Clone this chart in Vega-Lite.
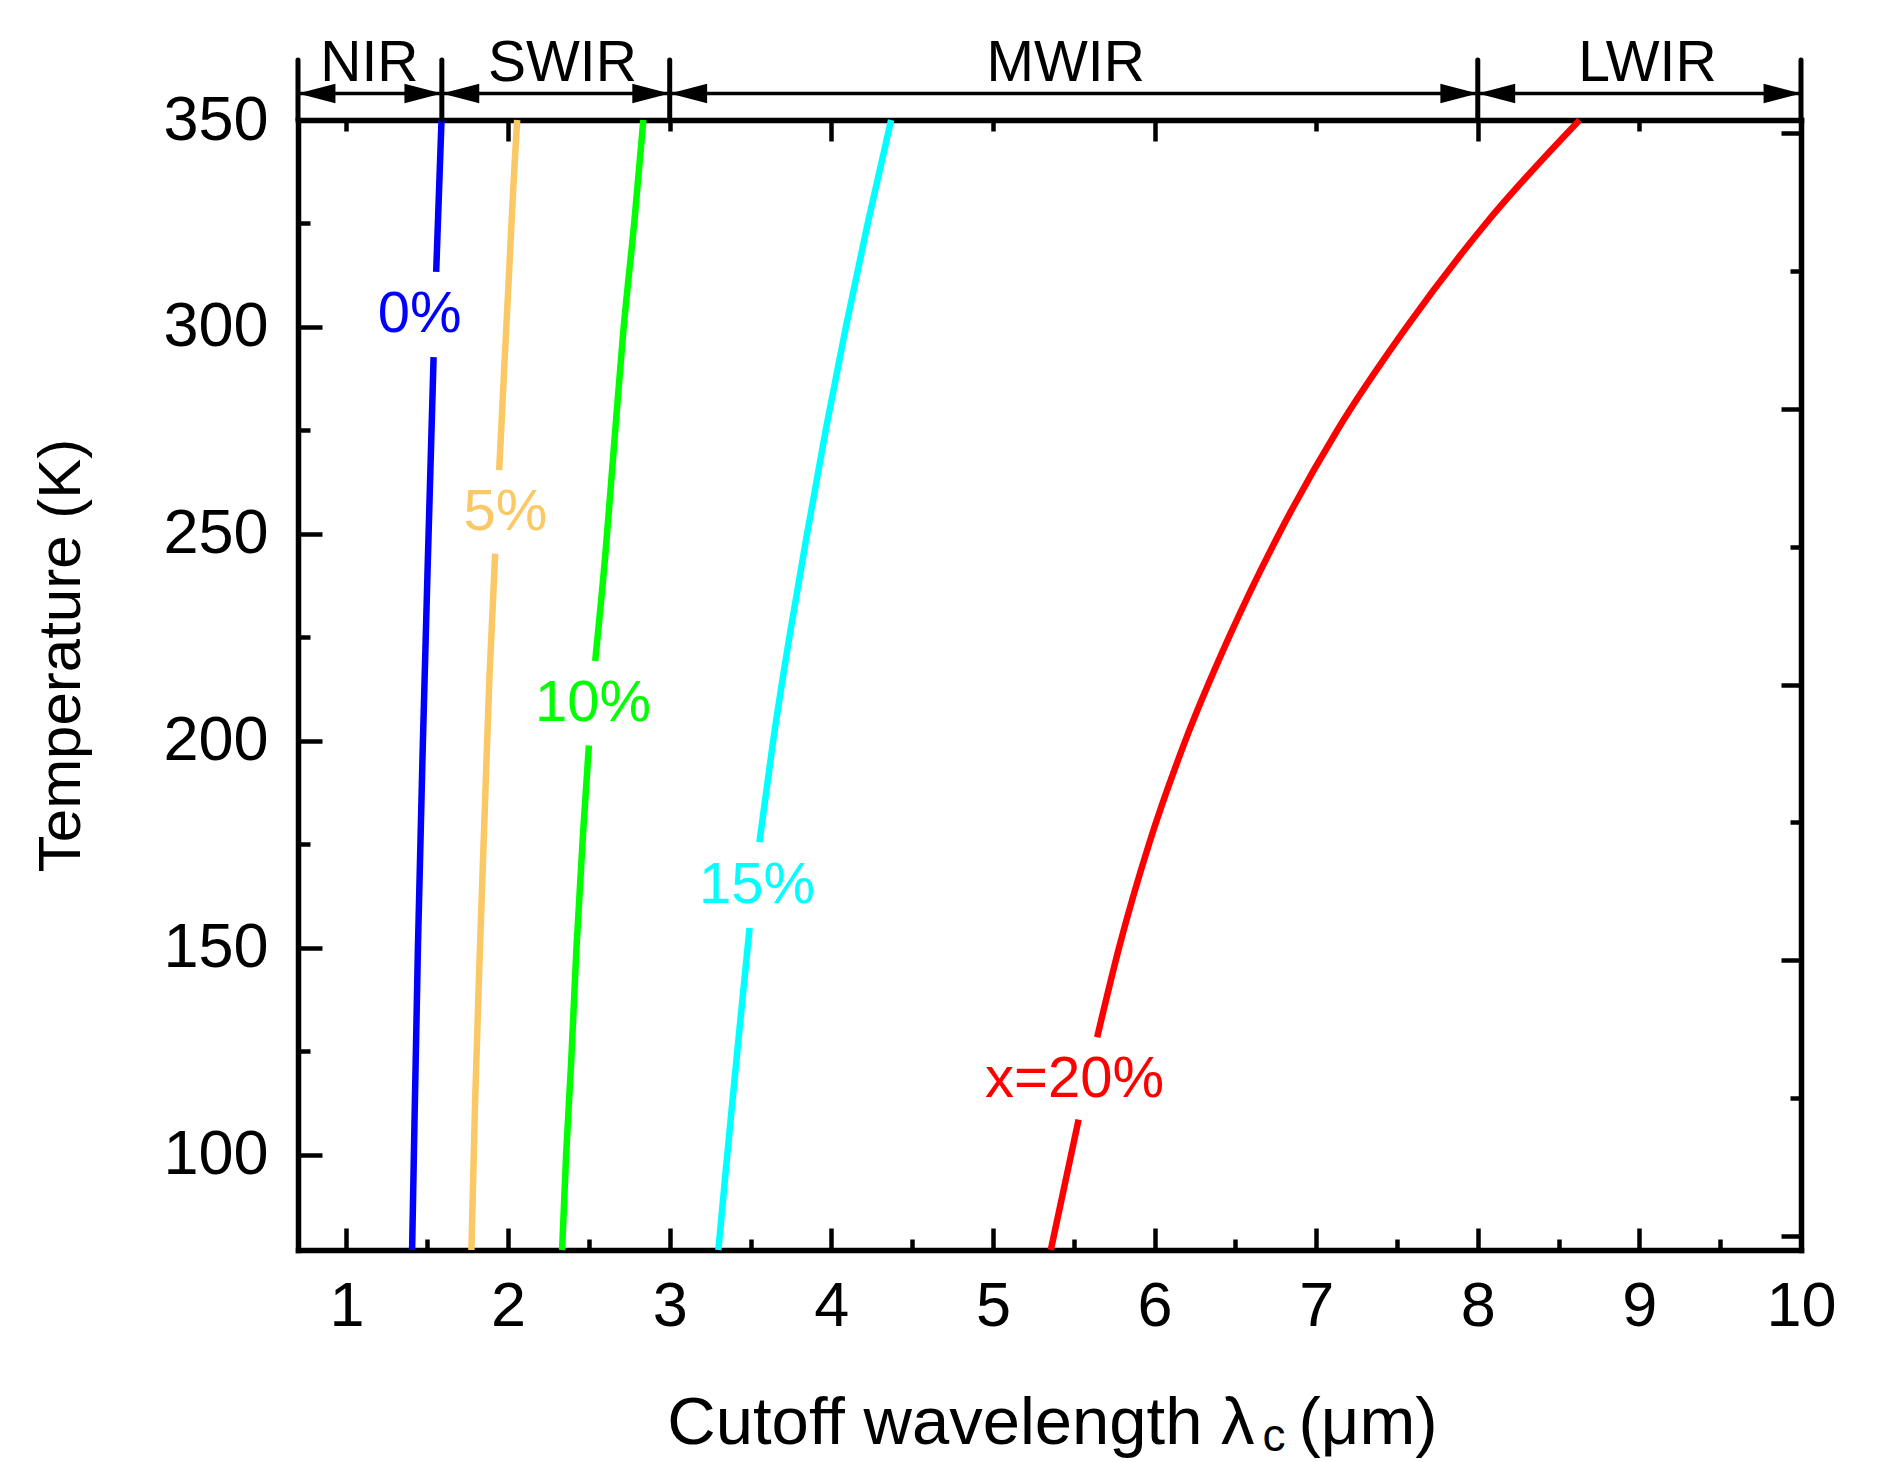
{
  "$schema": "https://vega.github.io/schema/vega-lite/v6.json",
  "width": 1503,
  "height": 1130,
  "autosize": {"type": "none"},
  "padding": {"left": 298, "top": 120, "right": 98, "bottom": 212},
  "background": "white",
  "config": {
    "view": {"stroke": null},
    "font": "Liberation Sans",
    "axis": {"grid": false, "domainColor": "black", "tickColor": "black", "labelColor": "black", "titleColor": "black", "labelFont": "Liberation Sans", "titleFont": "Liberation Sans"}
  },
  "datasets": {
    "curves": [
      {"series": "0%", "seg": "0a", "T": 77, "lambda": 1.406},
      {"series": "0%", "seg": "0a", "T": 100, "lambda": 1.417},
      {"series": "0%", "seg": "0a", "T": 150, "lambda": 1.442},
      {"series": "0%", "seg": "0a", "T": 200, "lambda": 1.473},
      {"series": "0%", "seg": "0a", "T": 250, "lambda": 1.508},
      {"series": "0%", "seg": "0a", "T": 292.7, "lambda": 1.539},
      {"series": "0%", "seg": "0b", "T": 313.3, "lambda": 1.555},
      {"series": "0%", "seg": "0b", "T": 350, "lambda": 1.588},
      {"series": "5%", "seg": "5a", "T": 77, "lambda": 1.773},
      {"series": "5%", "seg": "5a", "T": 113, "lambda": 1.796},
      {"series": "5%", "seg": "5a", "T": 150, "lambda": 1.826},
      {"series": "5%", "seg": "5a", "T": 187, "lambda": 1.859},
      {"series": "5%", "seg": "5a", "T": 214.8, "lambda": 1.884},
      {"series": "5%", "seg": "5a", "T": 245.2, "lambda": 1.92},
      {"series": "5%", "seg": "5b", "T": 265.4, "lambda": 1.945},
      {"series": "5%", "seg": "5b", "T": 290, "lambda": 1.976},
      {"series": "5%", "seg": "5b", "T": 310, "lambda": 2.002},
      {"series": "5%", "seg": "5b", "T": 335, "lambda": 2.034},
      {"series": "5%", "seg": "5b", "T": 350, "lambda": 2.056},
      {"series": "10%", "seg": "10a", "T": 77, "lambda": 2.334},
      {"series": "10%", "seg": "10a", "T": 100, "lambda": 2.359},
      {"series": "10%", "seg": "10a", "T": 122.2, "lambda": 2.39},
      {"series": "10%", "seg": "10a", "T": 150, "lambda": 2.423},
      {"series": "10%", "seg": "10a", "T": 177.8, "lambda": 2.464},
      {"series": "10%", "seg": "10a", "T": 198.9, "lambda": 2.5},
      {"series": "10%", "seg": "10b", "T": 219.3, "lambda": 2.539},
      {"series": "10%", "seg": "10b", "T": 245.2, "lambda": 2.602},
      {"series": "10%", "seg": "10b", "T": 272.1, "lambda": 2.657},
      {"series": "10%", "seg": "10b", "T": 299, "lambda": 2.713},
      {"series": "10%", "seg": "10b", "T": 325.8, "lambda": 2.782},
      {"series": "10%", "seg": "10b", "T": 350, "lambda": 2.837},
      {"series": "15%", "seg": "15a", "T": 77, "lambda": 3.301},
      {"series": "15%", "seg": "15a", "T": 100, "lambda": 3.356},
      {"series": "15%", "seg": "15a", "T": 125, "lambda": 3.418},
      {"series": "15%", "seg": "15a", "T": 154.8, "lambda": 3.494},
      {"series": "15%", "seg": "15b", "T": 175.5, "lambda": 3.555},
      {"series": "15%", "seg": "15b", "T": 200, "lambda": 3.64},
      {"series": "15%", "seg": "15b", "T": 225, "lambda": 3.74},
      {"series": "15%", "seg": "15b", "T": 250, "lambda": 3.85},
      {"series": "15%", "seg": "15b", "T": 275, "lambda": 3.965},
      {"series": "15%", "seg": "15b", "T": 300, "lambda": 4.09},
      {"series": "15%", "seg": "15b", "T": 325, "lambda": 4.225},
      {"series": "15%", "seg": "15b", "T": 350, "lambda": 4.37},
      {"series": "20%", "seg": "20a", "T": 77, "lambda": 5.358},
      {"series": "20%", "seg": "20a", "T": 92, "lambda": 5.44},
      {"series": "20%", "seg": "20a", "T": 108.5, "lambda": 5.53},
      {"series": "20%", "seg": "20b", "T": 128.4, "lambda": 5.645},
      {"series": "20%", "seg": "20b", "T": 150, "lambda": 5.78},
      {"series": "20%", "seg": "20b", "T": 175, "lambda": 5.965},
      {"series": "20%", "seg": "20b", "T": 200, "lambda": 6.19},
      {"series": "20%", "seg": "20b", "T": 225, "lambda": 6.46},
      {"series": "20%", "seg": "20b", "T": 250, "lambda": 6.77},
      {"series": "20%", "seg": "20b", "T": 275, "lambda": 7.13},
      {"series": "20%", "seg": "20b", "T": 300, "lambda": 7.56},
      {"series": "20%", "seg": "20b", "T": 325, "lambda": 8.05},
      {"series": "20%", "seg": "20b", "T": 350, "lambda": 8.63}
    ],
    "curveLabels": [
      {"series": "0%", "label": "0%", "lambda": 1.452, "T": 302.8},
      {"series": "5%", "label": "5%", "lambda": 1.984, "T": 255},
      {"series": "10%", "label": "10%", "lambda": 2.526, "T": 209},
      {"series": "15%", "label": "15%", "lambda": 3.54, "T": 165},
      {"series": "20%", "label": "x=20%", "lambda": 5.505, "T": 118.1}
    ],
    "bands": [
      {"band": "NIR", "lo": 0.7, "hi": 1.59, "mid": 1.142},
      {"band": "SWIR", "lo": 1.59, "hi": 3, "mid": 2.336},
      {"band": "MWIR", "lo": 3, "hi": 8, "mid": 5.45},
      {"band": "LWIR", "lo": 8, "hi": 10, "mid": 9.05}
    ],
    "dividers": [
      {"pos": 0.7}, {"pos": 1.59}, {"pos": 3}, {"pos": 8}, {"pos": 10}
    ],
    "xTitle": [
      {"part": "main", "text": "Cutoff wavelength λ", "lambda": 6.619, "T": 30.1},
      {"part": "sub", "text": "c", "lambda": 6.668, "T": 28.4},
      {"part": "unit", "text": "(μm)", "lambda": 6.891, "T": 30.1}
    ]
  },
  "layer": [
    {
      "data": {"name": "curves"},
      "mark": {"type": "line", "strokeWidth": 6.5, "strokeCap": "butt", "interpolate": "monotone"},
      "encoding": {
        "x": {
          "field": "lambda", "type": "quantitative",
          "scale": {"domain": [0.7, 10], "nice": false, "zero": false},
          "axis": {
            "orient": "bottom", "title": null,
            "values": [1, 1.5, 2, 2.5, 3, 3.5, 4, 4.5, 5, 5.5, 6, 6.5, 7, 7.5, 8, 8.5, 9, 9.5, 10],
            "labelExpr": "datum.value % 1 === 0 ? format(datum.value, 'd') : ''",
            "tickSize": {"condition": {"test": "datum.value % 1 === 0", "value": -22}, "value": -11},
            "tickWidth": 4.5, "domainWidth": 5.5, "domainCap": "square",
            "labelFontSize": 63, "labelPadding": 47, "labelFlush": false, "labelOverlap": false, "labelBound": false
          }
        },
        "y": {
          "field": "T", "type": "quantitative",
          "scale": {"domain": [77, 350], "nice": false, "zero": false},
          "axis": {
            "orient": "left", "title": "Temperature (K)",
            "values": [100, 125, 150, 175, 200, 225, 250, 275, 300, 325, 350],
            "labelExpr": "datum.value % 50 === 0 ? datum.label : ''",
            "tickSize": {"condition": {"test": "datum.value % 50 === 0", "value": -24}, "value": -12},
            "tickWidth": 4.5, "domainWidth": 5.5, "domainCap": "square",
            "labelFontSize": 63, "labelPadding": 54, "labelFlush": false, "labelOverlap": false, "labelBound": false,
            "titleFontSize": 60, "titleFontWeight": "normal", "titlePadding": 70, "titleY": 535
          }
        },
        "color": {
          "field": "series", "type": "nominal", "legend": null,
          "scale": {"domain": ["0%", "5%", "10%", "15%", "20%"], "range": ["#0000FF", "#FAC864", "#00FF00", "#00FFFF", "#FF0000"]}
        },
        "detail": {"field": "seg"},
        "order": {"field": "T"}
      }
    },
    {
      "data": {"name": "curveLabels"},
      "mark": {"type": "text", "fontSize": 58, "align": "center", "baseline": "middle", "font": "Liberation Sans"},
      "encoding": {
        "x": {
          "field": "lambda", "type": "quantitative",
          "scale": {"domain": [0.7, 10], "nice": false, "zero": false},
          "axis": {
            "orient": "top", "title": null, "labels": false,
            "values": [1, 2, 3, 4, 5, 6, 7, 8, 9, 10],
            "tickSize": {"condition": {"test": "datum.value % 2 === 0", "value": -21}, "value": -11},
            "tickWidth": 4.5, "domainWidth": 5.5, "domainCap": "square"
          }
        },
        "y": {
          "field": "T", "type": "quantitative",
          "scale": {"domain": [77, 350], "nice": false, "zero": false},
          "axis": {
            "orient": "right", "title": null, "labels": false,
            "values": [80.4, 113.7, 147, 180.3, 213.6, 246.9, 280.2, 313.5, 346.8],
            "tickSize": {"condition": {"test": "round((datum.value - 80.4) / 33.3) % 2 === 0", "value": -20}, "value": -11},
            "tickWidth": 4.5, "domainWidth": 5.5, "domainCap": "square"
          }
        },
        "text": {"field": "label"},
        "color": {
          "field": "series", "type": "nominal", "legend": null,
          "scale": {"domain": ["0%", "5%", "10%", "15%", "20%"], "range": ["#0000FF", "#FAC864", "#00FF00", "#00FFFF", "#FF0000"]}
        }
      }
    },
    {
      "data": {"name": "dividers"},
      "mark": {"type": "rule", "strokeWidth": 5, "strokeCap": "round", "color": "black"},
      "encoding": {
        "x": {"field": "pos", "type": "quantitative", "scale": {"domain": [0.7, 10], "nice": false, "zero": false}, "axis": null},
        "y": {"datum": 350, "type": "quantitative", "scale": {"domain": [77, 350], "nice": false, "zero": false}, "axis": null},
        "y2": {"datum": 364.5}
      }
    },
    {
      "data": {"name": "bands"},
      "mark": {"type": "rule", "strokeWidth": 3.5, "color": "black"},
      "encoding": {
        "x": {"field": "lo", "type": "quantitative", "scale": {"domain": [0.7, 10], "nice": false, "zero": false}, "axis": null},
        "x2": {"field": "hi"},
        "y": {"datum": 356.4, "type": "quantitative", "scale": {"domain": [77, 350], "nice": false, "zero": false}, "axis": null}
      }
    },
    {
      "data": {"name": "bands"},
      "mark": {"type": "point", "shape": "M0,0L1,-0.26L1,0.26Z", "size": 5600, "filled": true, "opacity": 1, "color": "black", "strokeWidth": 0},
      "encoding": {
        "x": {"field": "lo", "type": "quantitative", "scale": {"domain": [0.7, 10], "nice": false, "zero": false}, "axis": null},
        "y": {"datum": 356.4, "type": "quantitative", "scale": {"domain": [77, 350], "nice": false, "zero": false}, "axis": null}
      }
    },
    {
      "data": {"name": "bands"},
      "mark": {"type": "point", "shape": "M0,0L-1,-0.26L-1,0.26Z", "size": 5600, "filled": true, "opacity": 1, "color": "black", "strokeWidth": 0},
      "encoding": {
        "x": {"field": "hi", "type": "quantitative", "scale": {"domain": [0.7, 10], "nice": false, "zero": false}, "axis": null},
        "y": {"datum": 356.4, "type": "quantitative", "scale": {"domain": [77, 350], "nice": false, "zero": false}, "axis": null}
      }
    },
    {
      "data": {"name": "bands"},
      "mark": {"type": "text", "fontSize": 57, "align": "center", "baseline": "alphabetic", "color": "black", "font": "Liberation Sans"},
      "encoding": {
        "x": {"field": "mid", "type": "quantitative", "scale": {"domain": [0.7, 10], "nice": false, "zero": false}, "axis": null},
        "y": {"datum": 359.4, "type": "quantitative", "scale": {"domain": [77, 350], "nice": false, "zero": false}, "axis": null},
        "text": {"field": "band"}
      }
    },
    {
      "data": {"name": "xTitle"},
      "transform": [{"filter": "datum.part === 'main'"}],
      "mark": {"type": "text", "fontSize": 67, "align": "right", "baseline": "alphabetic", "color": "black", "font": "Liberation Sans"},
      "encoding": {
        "x": {"field": "lambda", "type": "quantitative", "scale": {"domain": [0.7, 10], "nice": false, "zero": false}, "axis": null},
        "y": {"field": "T", "type": "quantitative", "scale": {"domain": [77, 350], "nice": false, "zero": false}, "axis": null},
        "text": {"field": "text"}
      }
    },
    {
      "data": {"name": "xTitle"},
      "transform": [{"filter": "datum.part === 'sub'"}],
      "mark": {"type": "text", "fontSize": 46, "align": "left", "baseline": "alphabetic", "color": "black", "font": "Liberation Sans"},
      "encoding": {
        "x": {"field": "lambda", "type": "quantitative", "scale": {"domain": [0.7, 10], "nice": false, "zero": false}, "axis": null},
        "y": {"field": "T", "type": "quantitative", "scale": {"domain": [77, 350], "nice": false, "zero": false}, "axis": null},
        "text": {"field": "text"}
      }
    },
    {
      "data": {"name": "xTitle"},
      "transform": [{"filter": "datum.part === 'unit'"}],
      "mark": {"type": "text", "fontSize": 67, "align": "left", "baseline": "alphabetic", "color": "black", "font": "Liberation Sans"},
      "encoding": {
        "x": {"field": "lambda", "type": "quantitative", "scale": {"domain": [0.7, 10], "nice": false, "zero": false}, "axis": null},
        "y": {"field": "T", "type": "quantitative", "scale": {"domain": [77, 350], "nice": false, "zero": false}, "axis": null},
        "text": {"field": "text"}
      }
    }
  ],
  "resolve": {"axis": {"x": "independent", "y": "independent"}}
}
